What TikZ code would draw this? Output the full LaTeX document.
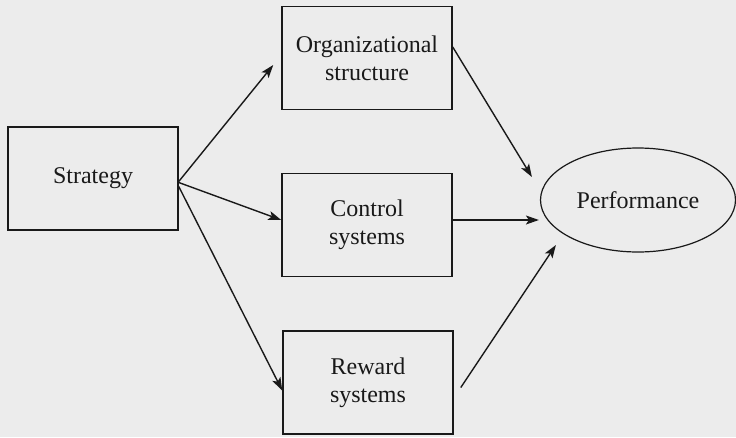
\documentclass[tikz,border=0pt]{standalone}
\usepackage{fontspec}
\setmainfont{Liberation Serif}
\usetikzlibrary{arrows.meta,calc,shapes.geometric}
\definecolor{bg}{RGB}{236,236,236}
\definecolor{ink}{RGB}{25,25,25}
\tikzset{
  box/.style={draw=ink, line width=1.5pt, minimum width=170pt, minimum height=103pt, align=center, font=\fontsize{24}{28}\selectfont, text=ink, inner sep=0pt},
  oval/.style={draw=ink, line width=1.2pt, ellipse, minimum width=195pt, minimum height=104pt, font=\fontsize{24}{28}\selectfont, text=ink, inner sep=0pt},
  arr/.style={draw=ink, line width=1.4pt, -{Stealth[length=13pt,width=9pt,inset=3pt]}}
}
\begin{document}
\begin{tikzpicture}[x=1pt,y=-1pt]
\fill[bg] (0,0) rectangle (736,437);
\useasboundingbox (0,0) rectangle (736,437);
\node[box] (s) at (93,178.5) {Strategy};
\node[box] (o) at (367,58) {Organizational\\structure};
\node[box] (c) at (367,225) {Control\\systems};
\node[box] (r) at (368,382.5) {Reward\\systems};
\node[oval] (p) at (638,200) {Performance};
\draw[arr] ($(s.east)+(0,3)$) -- ($(o.west)+(-8,7)$);
\draw[arr] ($(s.east)+(0,4)$) -- ($(c.west)+(0,-5)$);
\draw[arr] ($(s.east)+(0,8)$) -- ($(r.west)+(0,8)$);
\draw[arr] ($(o.east)+(0,-11)$) -- ($(p.west)+(-8,-23)$);
\draw[arr] ($(c.east)+(0,-5)$) -- ($(p.west)+(-1,20)$);
\draw[arr] ($(r.east)+(7,5)$) -- ($(p.west)+(16,45)$);
\end{tikzpicture}
\end{document}
